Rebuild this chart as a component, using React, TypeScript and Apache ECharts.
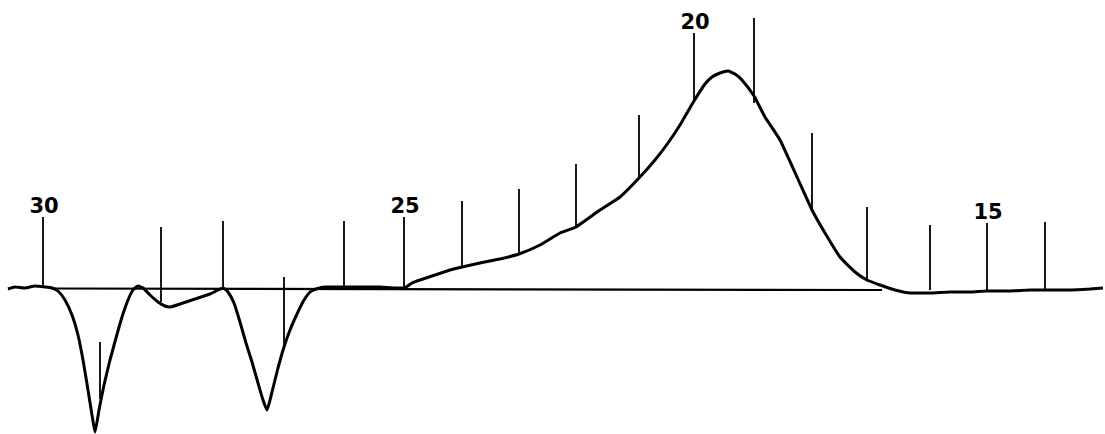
import React, { useEffect, useRef } from "react";
import * as echarts from "echarts";

// Recorder trace: chart position (time axis, arbitrary units) and signal (deflection, arbitrary units)
const traceTime: number[] = [
  8, 15, 25, 35, 45, 52, 58, 65, 72, 78, 83, 88, 92, 95, 99, 104, 110, 116, 122, 128,
  133, 138, 143, 150, 158, 165, 170, 180, 195, 210, 218, 223, 228, 234, 240, 246, 252, 258, 263, 267,
  272, 278, 284, 290, 297, 304, 310, 316, 325, 340, 360, 380, 395, 404, 412, 420, 435, 450, 462, 480,
  500, 519, 540, 560, 576, 600, 620, 639, 655, 668, 680, 694, 705, 712, 720, 728, 735, 742, 754, 765,
  780, 797, 812, 825, 840, 855, 867, 880, 895, 910, 930, 950, 970, 987, 1010, 1030, 1045, 1070, 1090, 1103,
];
const traceSignal: number[] = [
  0, 2, 1, 3, 2, 1, -2, -11, -26, -46, -71, -101, -126, -143, -121, -96, -71, -49, -28, -11,
  -1, 3, 1, -6, -13, -17, -18, -15, -10, -5, -1, 1, -3, -14, -33, -54, -73, -94, -111, -121,
  -103, -79, -58, -41, -25, -11, -3, 0, 2, 2, 2, 2, 1, 1, 6, 9, 14, 19, 22, 26,
  30, 35, 44, 56, 62, 79, 92, 111, 129, 146, 164, 188, 205, 212, 216, 218, 215, 209, 193, 172,
  149, 112, 79, 56, 32, 17, 9, 4, -1, -4, -4, -3, -3, -2, -2, -1, -1, -1, 0, 1,
];

// Zero line drawn by the recorder
const baselineTime: number[] = [52, 882];
const baselineSignal: number[] = [0.5, -1];

// Temperature marker pips: position, foot, head, label
const markerTime: number[] = [43, 100, 161, 223, 284, 344, 404, 462, 519, 576, 639, 694, 754, 812, 867, 930, 987, 1045];
const markerFoot: number[] = [1, -110, -13, 0, -58, 1, 1, 22, 35, 62, 111, 189, 186, 79, 8, -1, -3, -1];
const markerHead: number[] = [72, -53, 62, 68, 12, 68, 72, 88, 100, 125, 174, 256, 271, 156, 82, 64, 66, 67];
const markerLabel: string[] = ["30", "", "", "", "", "", "25", "", "", "", "", "20", "", "", "", "", "15", ""];

export default function App() {
  const ref = useRef<HTMLDivElement>(null);
  useEffect(() => {
    if (!ref.current) return;
    const chart = echarts.init(ref.current, undefined, { renderer: "svg" });
    const trace = traceTime.map((t, i) => [t, traceSignal[i]]);
    const base = baselineTime.map((t, i) => [t, baselineSignal[i]]);
    const markers = markerTime.map((t, i) => [t, markerFoot[i], markerHead[i], markerLabel[i]]);
    chart.setOption({
      animation: false,
      backgroundColor: "#ffffff",
      grid: { left: 0, right: 0, top: 0, bottom: 0 },
      xAxis: { type: "value", min: 0, max: 1105, show: false },
      yAxis: { type: "value", min: -145, max: 289, show: false },
      series: [
        {
          type: "line",
          data: base,
          symbol: "none",
          lineStyle: { color: "#000", width: 2.2 },
          silent: true,
        },
        {
          type: "line",
          data: trace,
          symbol: "none",
          smooth: 0.15,
          lineStyle: { color: "#000", width: 3 },
          silent: true,
        },
        {
          type: "custom",
          data: markers,
          silent: true,
          renderItem: (params: any, api: any) => {
            const t = api.value(0);
            const p1 = api.coord([t, api.value(1)]);
            const p2 = api.coord([t, api.value(2)]);
            const label = markerLabel[params.dataIndex];
            const children: any[] = [
              {
                type: "line",
                shape: { x1: p1[0], y1: p1[1], x2: p2[0], y2: p2[1] },
                style: { stroke: "#000", lineWidth: 1.8 },
              },
            ];
            if (label) {
              children.push({
                type: "text",
                x: p2[0] + 1,
                y: p2[1] - 11,
                style: {
                  text: label,
                  fill: "#000",
                  font: "bold 21px 'DejaVu Sans'",
                  align: "center",
                  verticalAlign: "middle",
                },
              });
            }
            return { type: "group", children };
          },
        },
      ],
    });
    return () => chart.dispose();
  }, []);
  return (
    <div
      ref={ref}
      style={{ position: "absolute", left: 0, top: 0, width: 1105, height: 434, background: "#fff" }}
    />
  );
}
